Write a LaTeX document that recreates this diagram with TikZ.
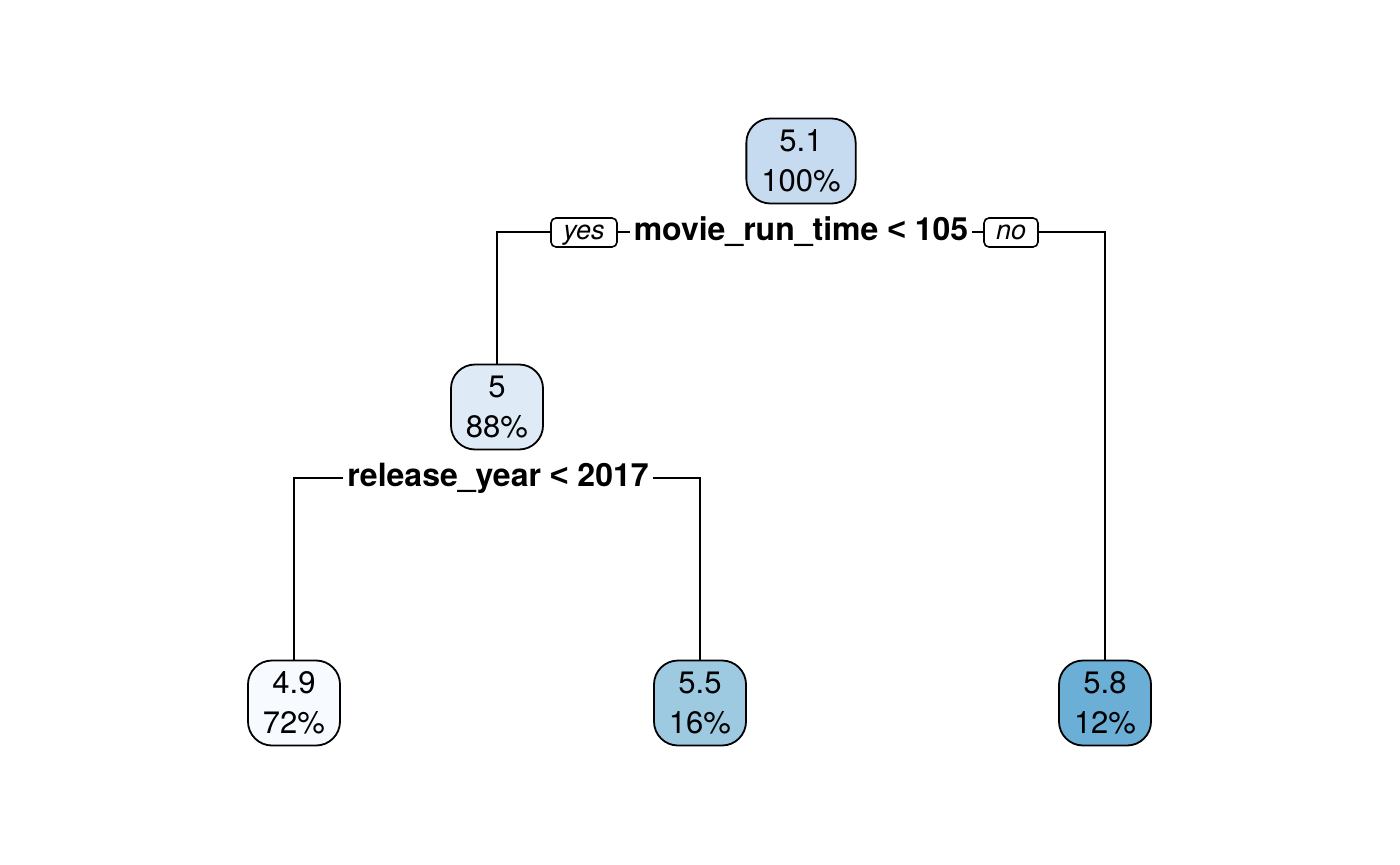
\documentclass[tikz,border=0pt]{standalone}
\usepackage{fontspec}
\setmainfont{TeX Gyre Heros}
\newfontfamily\ltfont{Liberation Sans}
\newcommand{\lessthan}{{\ltfont\bfseries <}}
\definecolor{cRoot}{HTML}{C6DBEF}
\definecolor{cFive}{HTML}{DEEBF7}
\definecolor{cA}{HTML}{F7FBFF}
\definecolor{cB}{HTML}{9ECAE1}
\definecolor{cC}{HTML}{6BAED6}
\tikzset{
  treenode/.style={draw=black, line width=0.9pt, rounded corners=12pt, align=center,
    inner xsep=7.5pt, inner ysep=0pt, minimum height=42.5pt,
    font=\fontsize{15.5}{20}\selectfont},
  splitlabel/.style={fill=white, inner xsep=2pt, inner ysep=1pt,
    font=\fontsize{16}{18}\selectfont\bfseries},
  yesno/.style={draw=black, fill=white, line width=0.8pt, rounded corners=2.5pt,
    inner xsep=0pt, inner ysep=0pt, minimum height=14.5pt,
    text height=9pt, text depth=2pt,
    font=\fontsize{13.5}{15}\selectfont\itshape},
  edge/.style={line width=0.8pt}
}
\begin{document}
\begin{tikzpicture}[x=0.5pt, y=-0.5pt]
\useasboundingbox (0,0) rectangle (1400,865);
% nodes
\node[treenode, fill=cRoot] (root) at (801,161) {5.1\\100\%};
\node[treenode, fill=cFive] (n5) at (497,407) {5\\88\%};
\node[treenode, fill=cA] (l1) at (294,703) {4.9\\72\%};
\node[treenode, fill=cB] (l2) at (700,703) {5.5\\16\%};
\node[treenode, fill=cC] (l3) at (1105,703) {5.8\\12\%};
% split coordinates
\coordinate (s1L) at (497,232);
\coordinate (s1R) at (1105,232);
\coordinate (s2L) at (294,478);
\coordinate (s2R) at (700,478);
% connectors
\draw[edge] (n5.north) -- (s1L) -- (s1R) -- (l3.north);
\draw[edge] (l1.north) -- (s2L) -- (s2R) -- (l2.north);
% labels
\node[splitlabel] (lab1) at (801,232) {movie\_run\_time \lessthan{} 105};
\node[splitlabel] (lab2) at (498,478) {release\_year \lessthan{} 2017};
\node[yesno, minimum width=33pt] (yes) at (584,232.5) {yes};
\node[yesno, minimum width=27pt] (no) at (1011,232.5) {no};
\end{tikzpicture}
\end{document}
